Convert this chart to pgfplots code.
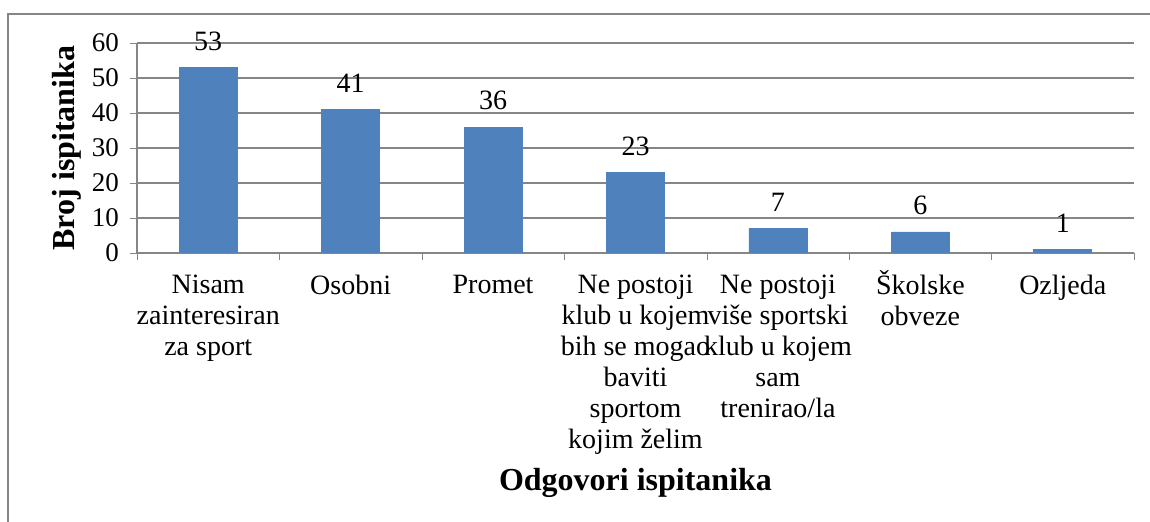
\documentclass[border=0pt]{standalone}
\usepackage{pgfplots}
\pgfplotsset{compat=1.18}
\usepackage{fontspec}
\setmainfont{Liberation Serif}
\definecolor{barblue}{HTML}{4F81BD}
\definecolor{gridgray}{HTML}{868686}
\begin{document}
\begin{tikzpicture}
% page: 1150x522 px at 0.5pt per px, axis origin at (137,253)
\useasboundingbox (-68.5pt,-134.5pt) rectangle (506.5pt,126.5pt);
\draw[gridgray, line width=1pt] (-64.5pt,-150pt) rectangle (520pt,119.5pt);
\begin{axis}[
    scale only axis,
    width=498.5pt,
    height=105pt,
    ybar,
    bar width=29pt,
    xmin=-0.5, xmax=6.5,
    ymin=0, ymax=60,
    ytick={0,10,...,60},
    xtick={0,...,6},
    xticklabels={
        {Nisam\\zainteresiran\\za sport},
        {Osobni},
        {Promet},
        {Ne postoji\\klub u kojem\\bih se mogao\\baviti\\sportom\\kojim želim},
        {Ne postoji\\više sportski\\klub u kojem\\sam\\trenirao/la},
        {\smash{Š}kolske\\obveze},
        {Ozljeda}},
    xticklabel style={align=center, font=\fontsize{14}{15.5}\selectfont, yshift=-4pt},
    yticklabel style={font=\fontsize{13.5}{15}\selectfont, xshift=-2pt},
    xtick style={draw=none},
    ytick style={draw=gridgray},
    tick align=outside,
    major tick length=3.5pt,
    extra x ticks={-0.5,0.5,...,6.5},
    extra x tick labels={},
    extra x tick style={grid=none, xtick style={draw=gridgray}, major tick length=3.5pt},
    axis x line*=bottom,
    axis y line*=left,
    axis line style={gridgray, line width=0.8pt},
    ymajorgrids,
    grid style={gridgray, line width=0.8pt},
    /pgf/number format/assume math mode=true,
    nodes near coords,
    nodes near coords style={font=\fontsize{14}{16}\selectfont, yshift=5pt, text=black},
    xlabel={Odgovori ispitanika},
    xlabel style={font=\bfseries\fontsize{16}{18}\selectfont, at={(axis description cs:0.5,-1.095)}, anchor=center},
    ylabel={Broj ispitanika},
    ylabel style={font=\bfseries\fontsize{16}{18}\selectfont, at={(axis description cs:-0.07,0.5)}, anchor=center},
]
\addplot[fill=barblue, draw=barblue] coordinates {
    (0,53) (1,41) (2,36) (3,23) (4,7) (5,6) (6,1)};
\end{axis}
\end{tikzpicture}
\end{document}
